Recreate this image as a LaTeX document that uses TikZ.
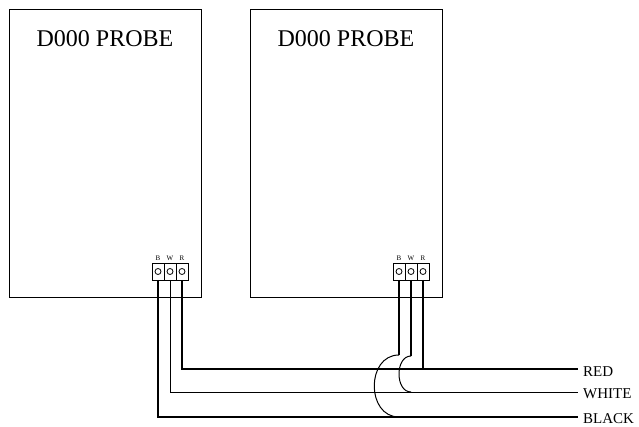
\documentclass[tikz,border=0pt]{standalone}
\usepackage{fontspec}
\setmainfont{Liberation Serif}
\begin{document}
\begin{tikzpicture}[x=1pt,y=-1pt,
  probe/.style={draw,line width=0.8pt,inner sep=0,outer sep=0,minimum width=192pt,minimum height=288pt},
  title/.style={font=\fontsize{24}{24}\selectfont,anchor=base,inner sep=0},
  cell/.style={draw,line width=0.8pt,inner sep=0,outer sep=0,minimum width=12pt,minimum height=17pt},
  hole/.style={line width=0.8pt},
  tlabel/.style={font=\fontsize{7}{7}\selectfont,inner sep=0,anchor=south},
  wlabel/.style={font=\fontsize{15}{15}\selectfont,anchor=base west,inner sep=0},
  thickw/.style={line width=2pt},
  thinw/.style={line width=1pt},
  arcw/.style={line width=1pt}]
\useasboundingbox (0,0) rectangle (639,427);
% probes
\node[probe] (p1) at (105,153) {};
\node[probe] (p2) at (346,153) {};
\node[title] (t1) at (105,47) {D000 PROBE};
\node[title] (t2) at (346,47) {D000 PROBE};
% terminal cells
\foreach \n/\x in {lB/158,lW/170,lR/182,rB/399,rW/411,rR/423}{
  \node[cell] (\n) at (\x,271.5) {};
  \draw[hole] (\n.center) circle[radius=3pt];
}
\foreach \n/\t in {lB/B,lW/W,lR/R,rB/B,rW/W,rR/R}{
  \node[tlabel] (\n l) at ([yshift=2.5pt]\n.north) {\t};
}
% wire ends and labels
\coordinate (redend) at (578,369);
\coordinate (whiteend) at (578,392);
\coordinate (blackend) at (578,417);
\node[wlabel] (red) at (583,376) {RED};
\node[wlabel] (white) at (583,398) {WHITE};
\node[wlabel] (black) at (583,423) {BLACK};
% left probe wires
\draw[thickw] (lR.south) |- (redend);
\draw[thinw] (lW.south) |- (whiteend);
\draw[thickw] (lB.south) |- (blackend);
% right probe wires
\coordinate (rRj) at (423,369);
\coordinate (rWa) at (411,356);
\coordinate (rWb) at (411,392);
\coordinate (rBa) at (399,355);
\coordinate (rBb) at (399,417);
\draw[thickw] (rR.south) -- (rRj);
\draw[thickw] (rW.south) -- (rWa);
\draw[thickw] (rB.south) -- (rBa);
\draw[arcw] (rWa) .. controls (395,356) and (395,392) .. (rWb);
\draw[arcw] (rBa) .. controls (366,355) and (366,417) .. (rBb);
\end{tikzpicture}
\end{document}
